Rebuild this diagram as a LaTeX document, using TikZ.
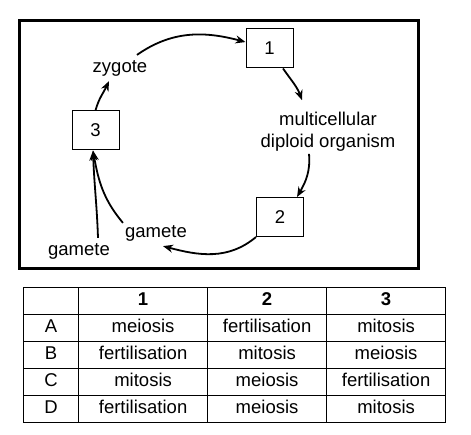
\documentclass[tikz,border=0pt]{standalone}
\usepackage{fontspec}
\setmainfont{Liberation Sans}
\usetikzlibrary{positioning,matrix,arrows.meta}

\begin{document}
\begin{tikzpicture}[x=1pt,y=1pt,
  every node/.style = {font=\fontsize{18.5}{22}\selectfont, inner sep=2pt},
  stage/.style = {draw, line width=1pt, minimum width=47pt, minimum height=39pt},
  cyc/.style = {-{Stealth[length=10pt,width=8pt]}, line width=1.8pt},
  cell/.style = {draw, line width=1.2pt, minimum height=27pt, text height=13pt, text depth=4pt, inner sep=2pt}
]
\useasboundingbox (0,0) rectangle (471,435);
\draw[line width=3pt] (19,166) rectangle (418,414);

% stages and labels of the cycle
\node[stage] (b1) at (269.5,386.5) {1};
\node[stage] (b2) at (280,218) {2};
\node[stage] (b3) at (95.5,304.5) {3};
\node (zyg) at (120,367) {zygote};
\node[align=center] (multi) at (328,303) {multicellular\\diploid organism};
\node (gamR) at (156,202) {gamete};
\node (gamL) at (79,184) {gamete};

\draw[cyc] ([xshift=17pt,yshift=3pt]zyg.north) to[out=35,in=165] (b1.165);
\draw[cyc] ([xshift=13.5pt]b1.south) to[out=-55,in=110] ([xshift=-26pt,yshift=10pt]multi.north);
\draw[cyc] ([xshift=-19pt]multi.south) to[out=-85,in=60] ([xshift=17pt]b2.north);
\draw[cyc] (b2.south west) to[out=220,in=-15] ([xshift=7pt,yshift=-3pt]gamR.south);
\draw[cyc] (gamR.north west) to[out=130,in=-80] ([xshift=-2.5pt]b3.south);
\draw[cyc] ([xshift=19pt,yshift=3pt]gamL.north) to[out=92,in=-88] ([xshift=-2.5pt]b3.south);
\draw[cyc] (b3.north) to[out=75,in=-115] ([xshift=-11pt,yshift=-3pt]zyg.south);

% answer table
\matrix (tbl) [matrix of nodes, nodes in empty cells, anchor=north west,
  inner sep=0pt, outer sep=0pt, nodes={cell},
  column sep=-1.2pt, row sep=-1.2pt,
  column 1/.style={nodes={minimum width=55pt}},
  column 2/.style={nodes={minimum width=129pt}},
  column 3/.style={nodes={minimum width=119pt}},
  column 4/.style={nodes={minimum width=119pt}},
  row 1/.style={nodes={font=\fontsize{18.5}{22}\selectfont\bfseries}}
] at (23,148) {
     & 1             & 2             & 3             \\
  A  & meiosis       & fertilisation & mitosis       \\
  B  & fertilisation & mitosis       & meiosis       \\
  C  & mitosis       & meiosis       & fertilisation \\
  D  & fertilisation & meiosis       & mitosis       \\
};
\end{tikzpicture}
\end{document}
